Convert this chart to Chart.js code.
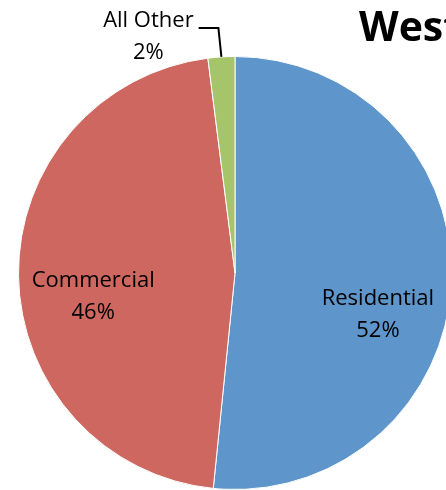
<!DOCTYPE html>
<html>
<head>
<meta charset="utf-8">
<script src="https://cdn.jsdelivr.net/npm/chart.js@4/dist/chart.umd.min.js"></script>
<style>
  html, body { margin: 0; padding: 0; background: #fff; overflow: hidden; }
  #wrap { position: relative; width: 470px; height: 490px; }
</style>
</head>
<body>
<div id="wrap"><canvas id="pieChart"></canvas></div>
<script>
// values
const categories = ['Residential', 'Commercial', 'All Other'];
const shares = [51.6, 46.4, 2.0];
const colors = ['#5E95CA', '#CD6760', '#A6C46A'];

// label spots, in units of the pie radius from its centre
const labelSpots = [[0.66, 0.195], [-0.655, 0.11], [-0.40, -1.09]];

const labelPlugin = {
    id: 'sliceLabels',
    afterDraw(chart) {
        const ctx = chart.ctx;
        const arcs = chart.getDatasetMeta(0).data;
        ctx.save();
        ctx.font = '22px "Open Sans", sans-serif';
        ctx.fillStyle = '#000';
        ctx.textAlign = 'center';
        ctx.textBaseline = 'middle';
        arcs.forEach((arc, i) => {
            const r = arc.outerRadius;
            const x = arc.x + labelSpots[i][0] * r;
            const y = arc.y + labelSpots[i][1] * r;
            ctx.fillText(categories[i], x, y - 16);
            ctx.fillText(Math.round(shares[i]) + '%', x, y + 16);

            if (i === 2) {
                // leader line from the label down to the small slice
                const mid = (arc.startAngle + arc.endAngle) / 2;
                const tx = arc.x + Math.cos(mid) * r;
                const ty = arc.y + Math.sin(mid) * r;
                const w = ctx.measureText(categories[i]).width;
                ctx.beginPath();
                ctx.strokeStyle = '#000';
                ctx.lineWidth = 2;
                ctx.moveTo(x + w / 2 + 5, y - 9);
                ctx.lineTo(tx - 3, y - 9);
                ctx.lineTo(tx, ty);
                ctx.stroke();
            }
        });

        // title, cut off by the right edge as in the picture
        ctx.font = 'bold 41px "Open Sans", sans-serif';
        ctx.textAlign = 'left';
        ctx.textBaseline = 'alphabetic';
        ctx.fillText('West', 359, 41);
        ctx.restore();
    }
};

new Chart(document.getElementById('pieChart'), {
    type: 'pie',
    data: {
        labels: categories,
        datasets: [{
            data: shares,
            backgroundColor: colors,
            borderColor: '#ffffff',
            borderWidth: 1
        }]
    },
    options: {
        responsive: true,
        maintainAspectRatio: false,
        animation: false,
        layout: { padding: { left: 18, right: 18, top: 56, bottom: 0 } },
        plugins: {
            legend: { display: false },
            tooltip: { enabled: false },
            title: { display: false }
        }
    },
    plugins: [labelPlugin]
});
</script>
</body>
</html>
